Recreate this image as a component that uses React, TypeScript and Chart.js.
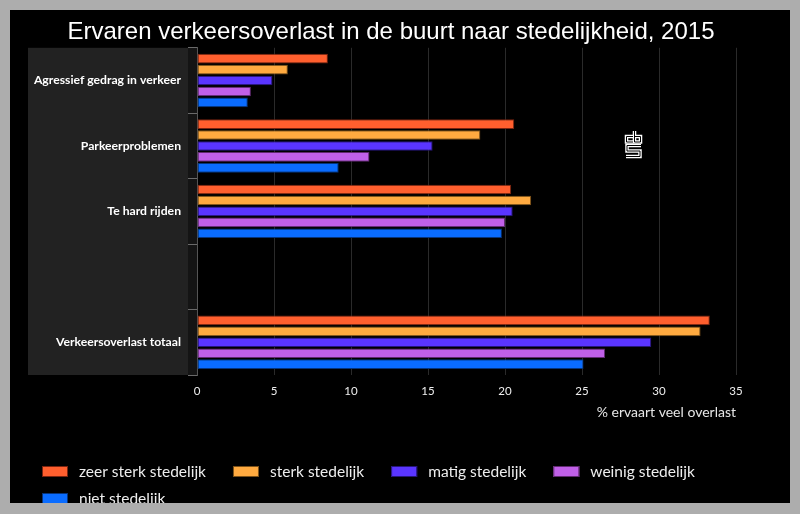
import React, { useEffect, useRef } from "react";
import { Chart, registerables } from "chart.js";

Chart.register(...registerables);

const TITLE = "Ervaren verkeersoverlast in de buurt naar stedelijkheid, 2015";
const AXIS_TITLE = "% ervaart veel overlast";
const categories = [
  "Agressief gedrag in verkeer",
  "Parkeerproblemen",
  "Te hard rijden",
  "",
  "Verkeersoverlast totaal",
];
const seriesNames = [
  "zeer sterk stedelijk",
  "sterk stedelijk",
  "matig stedelijk",
  "weinig stedelijk",
  "niet stedelijk",
];
const zeerSterk = [8.5, 20.6, 20.4, null, 33.3];
const sterk = [5.9, 18.4, 21.7, null, 32.7];
const matig = [4.9, 15.3, 20.5, null, 29.5];
const weinig = [3.5, 11.2, 20.0, null, 26.5];
const niet = [3.3, 9.2, 19.8, null, 25.1];
const seriesValues = [zeerSterk, sterk, matig, weinig, niet];
const xTicks = [0, 5, 10, 15, 20, 25, 30, 35];

const fillColors = ["#ff5f2e", "#ffaa40", "#5a35ff", "#c060e8", "#0a6cff"];
const edgeColors = ["#7a2410", "#7a5018", "#26167a", "#602a70", "#06347a"];

const bgPlugin = {
  id: "bgPlugin",
  beforeDraw(chart: any) {
    const { ctx, chartArea } = chart;
    ctx.save();
    ctx.fillStyle = "#000";
    ctx.fillRect(0, 0, chart.width, chart.height);
    ctx.fillStyle = "#222222";
    ctx.fillRect(28, chartArea.top, 160, chartArea.bottom - chartArea.top);
    ctx.fillStyle = "#141414";
    ctx.fillRect(188, chartArea.top, chartArea.left - 188, chartArea.bottom - chartArea.top);
    ctx.restore();
  },
  afterDraw(chart: any) {
    const { ctx } = chart;
    ctx.save();
    // legend
    ctx.font = "15.5px Lato";
    ctx.textBaseline = "middle";
    ctx.textAlign = "left";
    let x = 42;
    let y = 471.5;
    chart.data.datasets.forEach((ds: any, i: number) => {
      const tw = ctx.measureText(ds.label).width;
      if (i > 0 && x + 37 + tw > 720) {
        x = 42;
        y += 27;
      }
      ctx.fillStyle = ds.backgroundColor;
      ctx.fillRect(x, y - 5.5, 26, 11);
      ctx.strokeStyle = ds.borderColor;
      ctx.lineWidth = 1;
      ctx.strokeRect(x + 0.5, y - 5, 25, 10);
      ctx.fillStyle = "#eeeeee";
      ctx.fillText(ds.label, x + 37, y);
      x = x + 37 + tw + 27;
    });
    // cbs logo
    const drawPath = (pts: number[][]) => {
      ctx.beginPath();
      ctx.moveTo(pts[0][0], pts[0][1]);
      for (let k = 1; k < pts.length; k++) ctx.lineTo(pts[k][0], pts[k][1]);
      ctx.stroke();
    };
    const paths = [
      [[633, 136.5], [626.5, 136.5], [626.5, 142], [633, 142]],
      [[634.5, 131], [634.5, 142], [640.5, 142], [640.5, 136.5], [634.5, 136.5]],
      [[641, 145.5], [627, 145.5], [627, 151], [640, 151], [640, 156.5], [626, 156.5]],
    ];
    ctx.lineJoin = "miter";
    ctx.strokeStyle = "#ffffff";
    ctx.lineWidth = 3.5;
    paths.forEach(drawPath);
    ctx.strokeStyle = "#000000";
    ctx.lineWidth = 1;
    paths.forEach(drawPath);
    // frame
    ctx.fillStyle = "#adadad";
    ctx.fillRect(0, 0, chart.width, 10);
    ctx.fillRect(0, 0, 10, chart.height);
    ctx.fillRect(790, 0, 10, chart.height);
    ctx.fillRect(0, 503, chart.width, 11);
    ctx.restore();
  },
};

export default function App() {
  const ref = useRef<HTMLCanvasElement>(null);
  useEffect(() => {
    if (!ref.current) return;
    const chart = new Chart(ref.current, {
      type: "bar",
      data: {
        labels: categories,
        datasets: seriesValues.map((vals, i) => ({
          label: seriesNames[i],
          data: vals,
          backgroundColor: fillColors[i],
          borderColor: edgeColors[i],
          borderWidth: 1,
          borderSkipped: false,
          categoryPercentage: 0.835,
          barPercentage: 0.88,
        })),
      },
      options: {
        indexAxis: "y",
        animation: false,
        responsive: false,
        layout: { padding: { top: 10, left: 10, right: 28, bottom: 89 } },
        plugins: {
          legend: { display: false },
          tooltip: { enabled: false },
          title: {
            display: true,
            text: TITLE,
            color: "#ffffff",
            font: { family: "'Liberation Sans', Arial, sans-serif", size: 24, weight: "normal" },
            padding: { top: 8, bottom: 1 },
          },
        },
        scales: {
          x: {
            min: 0,
            max: 35,
            afterFit: (s: any) => {
              s.height = 50;
            },
            afterBuildTicks: (s: any) => {
              s.ticks = xTicks.map((v) => ({ value: v }));
            },
            grid: {
              color: (c: any) => (c.tick && c.tick.value === 0 ? "rgba(0,0,0,0)" : "#2a2a2a"),
              drawTicks: false,
            },
            border: { display: false },
            ticks: {
              color: "#eeeeee",
              font: { family: "Lato", size: 11.5 },
              padding: 9,
            },
            title: {
              display: true,
              text: AXIS_TITLE,
              align: "end",
              color: "#e6e6e6",
              font: { family: "Lato", size: 14 },
              padding: { top: 0, bottom: 4 },
            },
          },
          y: {
            afterFit: (s: any) => {
              s.width = 187;
            },
            grid: {
              drawOnChartArea: false,
              color: "#6a6a6a",
              tickLength: 9,
            },
            border: { display: true, color: "#555555" },
            ticks: {
              color: "#ffffff",
              font: { family: "Lato", size: 12.2, weight: "bold" },
              padding: 7,
            },
          },
          yRight: {
            type: "category",
            position: "right",
            labels: categories,
            afterFit: (s: any) => {
              s.width = 36;
            },
            grid: { display: false },
            border: { display: false },
            ticks: { display: false },
          },
        },
      },
      plugins: [bgPlugin],
    } as any);
    return () => chart.destroy();
  }, []);
  return (
    <div style={{ position: "fixed", left: 0, top: 0, width: 800, height: 514, background: "#000" }}>
      <canvas ref={ref} width={800} height={514} style={{ display: "block", width: 800, height: 514 }} />
    </div>
  );
}
